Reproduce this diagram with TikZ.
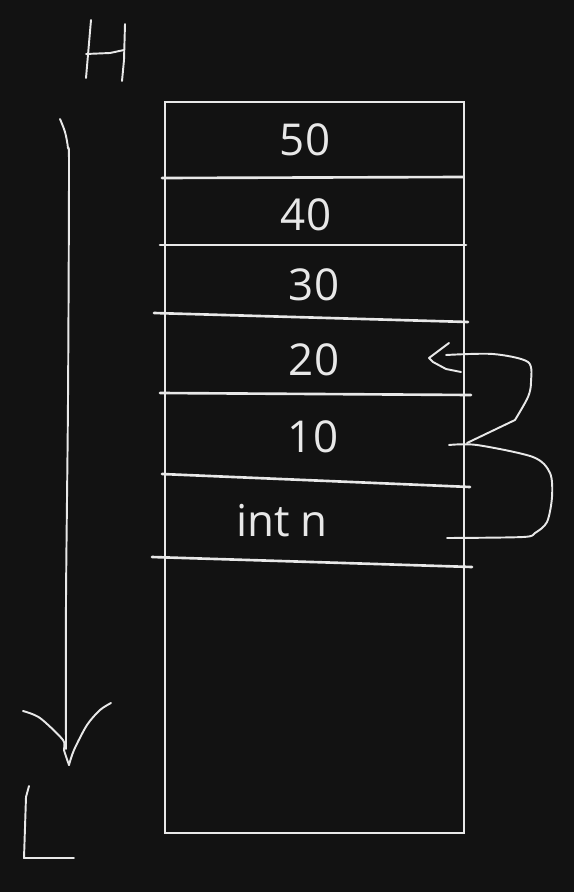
\documentclass[tikz,border=0pt]{standalone}
\usepackage{fontspec}
\setmainfont{Open Sans}
\usepackage{tikz}
\usetikzlibrary{calc}
\definecolor{board}{RGB}{18,18,18}
\definecolor{chalk}{RGB}{232,232,232}
\tikzset{
  sbox/.style={chalk,line width=1.6pt},
  sline/.style={chalk,line width=1.5pt,line cap=round},
  shand/.style={chalk,line width=1.1pt,line cap=round,line join=round},
  slab/.style={text=chalk,font=\fontsize{25}{28}\selectfont,inner sep=0pt},
}
\begin{document}
\begin{tikzpicture}[x=0.02cm,y=-0.02cm]
  \fill[board] (0,0) rectangle (574,892);
  \useasboundingbox (0,0) rectangle (574,892);
  % stack frame
  \draw[sbox] (165,102) rectangle (464,833);
  \foreach \xa/\ya/\xb/\yb in {162/178/463/177,160/245/466/245,154/313/468/322,
                               160/393/471/395,162/474/470/487,152/557/472/567}
    {\draw[sline] (\xa,\ya) -- (\xb,\yb);}
  \foreach \x/\y/\n/\lab in {305/140/c50/50,306/215/c40/40,314/285/c30/30,
                             314/360/c20/20,313/437/c10/10,282/521/cn/{int n}}
    {\node[slab] (\n) at (\x,\y) {\lab};}
  % H and L
  \draw[shand] (91,20) -- (86,78);
  \draw[shand] (125,24) -- (124,60) -- (122,81);
  \draw[shand] (86,54) -- (110,53) -- (124,50);
  \draw[shand] (29,786) -- (26,797) -- (24,858) -- (74,858);
  % address direction
  \draw[shand] plot[smooth] coordinates {(60,119) (65,132) (68,148) (69,170) (68,400) (66,600) (66,749)};
  \draw[shand] plot[smooth] coordinates {(23,711) (40,718) (63,740) (64,750) (69,765)};
  \draw[shand] plot[smooth] coordinates {(69,765) (74,750) (87,725) (100,710) (111,703)};
  % pointer back to 20
  \draw[shand] (449,343) -- (429,358) -- (433,362) -- (446,369) -- (461,372);
  \draw[shand] plot[smooth] coordinates {(446,355) (493,354) (528,362) (531,382) (528,397) (515,420)};
  \draw[shand] (515,420) -- (467,443);
  \draw[shand] plot[smooth] coordinates {(449,445) (477,445) (533,457) (550,473) (552,497)
                                         (547,522) (535,533) (523,537) (447,538)};
\end{tikzpicture}
\end{document}
